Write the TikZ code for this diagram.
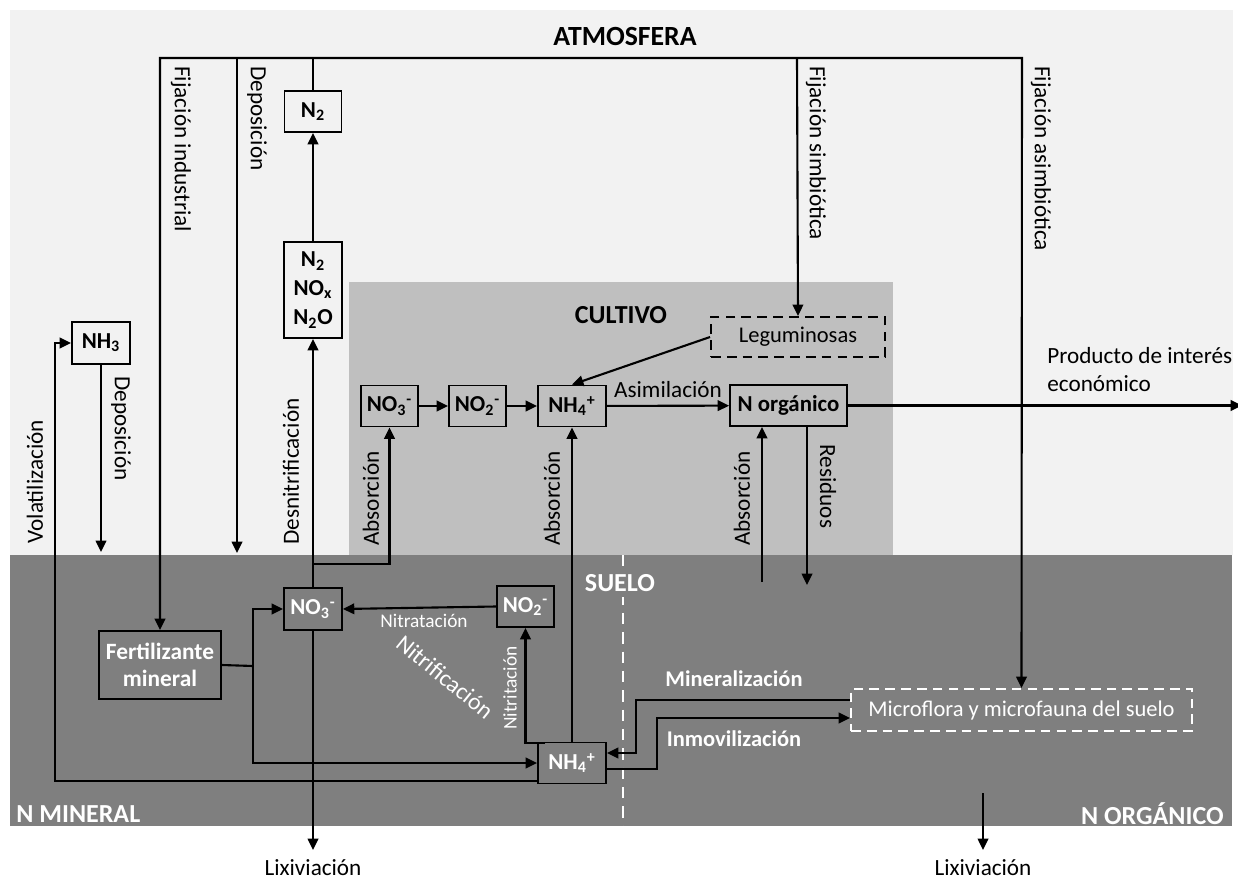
\documentclass[tikz,border=0pt]{standalone}
\usepackage{fontspec}
\setmainfont{Carlito}
\usetikzlibrary{arrows.meta}
\definecolor{atm}{HTML}{F2F2F2}
\definecolor{cult}{HTML}{BFBFBF}
\definecolor{soil}{HTML}{7F7F7F}
\newcommand\ion[2]{\textsubscript{#1}\textsuperscript{#2}}
\begin{document}
\begin{tikzpicture}[x={(0.02cm,0)}, y={(0,-0.02cm)},
  conn/.style={line width=1.2pt},
  arr/.style={conn, -{Triangle[length=6.5pt,width=6pt]}},
  box/.style={draw, line width=1pt, inner sep=0pt, align=center, font=\fontsize{13}{16.5}\selectfont\bfseries},
  cbox/.style={box, fill=cult, minimum height=0.82cm},
  sbox/.style={box, fill=soil, text=white, minimum height=0.82cm},
  abox/.style={box, fill=atm},
  lab/.style={font=\fontsize{13.2}{16}\selectfont, inner sep=0pt},
  wlab/.style={lab, text=white},
  title/.style={font=\fontsize{14.8}{17}\selectfont\bfseries, inner sep=0pt},
  dashbox/.style={line width=1.1pt, dash pattern=on 5.5pt off 3.5pt, inner sep=0pt, font=\fontsize{12.8}{15}\selectfont}
]
\useasboundingbox (0,0) rectangle (1238,882);
% regions
\fill[atm] (10,10) rectangle (1233,555);
\fill[cult] (349,282) rectangle (893,555);
\fill[soil] (10,555) rectangle (1232,826);
\draw[white, line width=1.1pt, dash pattern=on 6.5pt off 4.5pt] (623,555) -- (623,826);

% region titles
\node[title, font=\fontsize{15.8}{18}\selectfont\bfseries] (tatm) at (625,36) {ATMOSFERA};
\node[title] (tcult) at (621,315) {CULTIVO};
\node[title, text=white, fill=soil, inner sep=3pt] (tsuelo) at (620,583) {SUELO};
\node[title, text=white, anchor=west] (tmin) at (16,814) {N MINERAL};
\node[title, text=white, anchor=east] (torg) at (1224,814) {N ORGÁNICO};

% atmosphere boxes
\node[abox, minimum width=1.14cm, minimum height=0.82cm] (n2) at (313,111.5) {N\textsubscript{2}};
\node[abox, minimum width=1.16cm, minimum height=1.92cm] (gas) at (313,290) {N\textsubscript{2}\\NO\textsubscript{x}\\N\textsubscript{2}O};
\node[abox, minimum width=1.16cm, minimum height=0.84cm] (nh3) at (101,343) {NH\textsubscript{3}};

% crop boxes
\node[cbox, minimum width=1.14cm] (cno3) at (389.5,406) {NO\ion{3}{-}};
\node[cbox, minimum width=1.14cm] (cno2) at (477.5,406) {NO\ion{2}{-}};
\node[cbox, minimum width=1.36cm] (cnh4) at (572,406) {NH\ion{4}{+}};
\node[cbox, minimum width=2.34cm] (norg) at (788.5,405.5) {N orgánico};
\node[dashbox, draw=black, minimum width=3.48cm, minimum height=0.80cm] (legum) at (798,337) {Leguminosas};

% soil boxes
\node[sbox, minimum width=1.16cm, minimum height=0.84cm] (sno3) at (313,609) {NO\ion{3}{-}};
\node[sbox, minimum width=1.14cm] (sno2) at (525.5,606.5) {NO\ion{2}{-}};
\node[sbox, minimum width=1.36cm] (snh4) at (572,763) {NH\ion{4}{+}};
\node[sbox, minimum width=2.44cm, minimum height=1.36cm, font=\fontsize{13.3}{15.5}\selectfont\bfseries] (fert) at (160,665) {Fertilizante\\mineral};
\node[dashbox, draw=white, text=white, minimum width=6.82cm, minimum height=0.84cm] (micro) at (1021.5,710) {Microflora y microfauna del suelo};

% coordinates
\coordinate (topL) at (160,58);
\coordinate (topR) at (1022,58);
\coordinate (depTop) at (237,58);
\coordinate (depBot) at (237,553);
\coordinate (symTop) at (797,58);
\coordinate (lixA) at (313,850);
\coordinate (lixBtop) at (983,793);
\coordinate (lixB) at (983,850);
\coordinate (absA) at (313,564);
\coordinate (absC) at (762,582);
\coordinate (resEnd) at (807,585);
\coordinate (fertJ) at (253,666);
\coordinate (nitS) at (545,743);
\coordinate (volS) at (538,781);
\coordinate (volC) at (55,781);
\coordinate (nh3dep) at (101,552);
\coordinate (prodEnd) at (1242,405.5);

% atmosphere connectors
\draw[{Triangle[length=6.5pt,width=6pt]}-{Triangle[length=6.5pt,width=6pt]}, conn] (fert.north) -- (topL) -- (topR) -- (micro.north);
\draw[arr] (depTop) -- (depBot);
\draw[arr] (symTop) -- (legum.north);
\draw[conn] (n2.north) -- (n2.north |- topL);
\draw[arr] (gas.north) -- (n2.south);
\draw[arr] (sno3.north) -- (gas.south);
\draw[arr] (sno3.south) -- (lixA);
\draw[arr] (nh3.south) -- (nh3dep);
\draw[arr] (volS) -- (volC) |- (nh3.west);

% crop connectors
\draw[arr] (absA) -| (cno3.south);
\draw[arr] (cno3) -- (cno2);
\draw[arr] (cno2) -- (cnh4);
\draw[arr] (cnh4) -- node[lab, above=4pt] {Asimilación} (norg);
\draw[arr] (legum.west) -- (cnh4.north);
\draw[arr] (norg.east) -- (prodEnd);
\draw[arr] (snh4.north) -- (cnh4.south);
\draw[arr] (absC) -- (absC |- norg.south);
\draw[arr] (resEnd |- norg.south) -- (resEnd);

% soil connectors
\draw[arr] (sno2.west) -- (sno3.east);
\draw[arr] (nitS) -| (sno2.south);
\draw[conn] (fert.east) -- (fertJ);
\draw[arr] (fertJ) |- (sno3.west);
\draw[arr] (fertJ) |- (snh4.west);
\draw[arr] (micro.west |- 0,700) -- (636,700) -- (636,753) -- (snh4.east |- 0,753);
\draw[arr] (snh4.east |- 0,769) -- (657,769) -- (657,718) -- (micro.west |- 0,718);
\draw[arr] (lixBtop) -- (lixB);

% labels
\node[lab, rotate=-90, anchor=west] (lfi) at (181,66) {Fijación industrial};
\node[lab, rotate=-90, anchor=west] (ldep) at (257,66) {Deposición};
\node[lab, rotate=-90, anchor=west] (lsim) at (816,66) {Fijación simbiótica};
\node[lab, rotate=-90, anchor=west] (lasim) at (1041,66) {Fijación asimbiótica};
\node[lab, rotate=-90, anchor=west] (ldep2) at (121,376) {Deposición};
\node[lab, rotate=90, anchor=west] (lvol) at (35,544) {Volatilización};
\node[lab, rotate=90, anchor=west] (lden) at (291,545) {Desnitrificación};
\node[lab, rotate=90, anchor=west] (labs1) at (371,546) {Absorción};
\node[lab, rotate=90, anchor=west] (labs2) at (552,546) {Absorción};
\node[lab, rotate=90, anchor=west] (labs3) at (742,546) {Absorción};
\node[lab, rotate=-90, anchor=west] (lres) at (828,444) {Residuos};
\node[lab, anchor=north west, align=left] (lprod) at (1047,347) {Producto de interés\\económico};
\node[lab] (llix1) at (313,868) {Lixiviación};
\node[lab] (llix2) at (983,868) {Lixiviación};
\node[wlab, font=\fontsize{11}{13}\selectfont] (lnitra) at (424,621) {Nitratación};
\node[wlab, font=\fontsize{11}{13}\selectfont, rotate=90] (lnitri) at (510,688) {Nitritación};
\node[wlab, font=\fontsize{13.5}{16}\selectfont, rotate=-39] (lnitrif) at (445,677) {Nitrificación};
\node[wlab, font=\fontsize{12.8}{15}\selectfont\bfseries] (lmin) at (734,679) {Mineralización};
\node[wlab, font=\fontsize{12.8}{15}\selectfont\bfseries] (linm) at (734,739) {Inmovilización};
\end{tikzpicture}
\end{document}
